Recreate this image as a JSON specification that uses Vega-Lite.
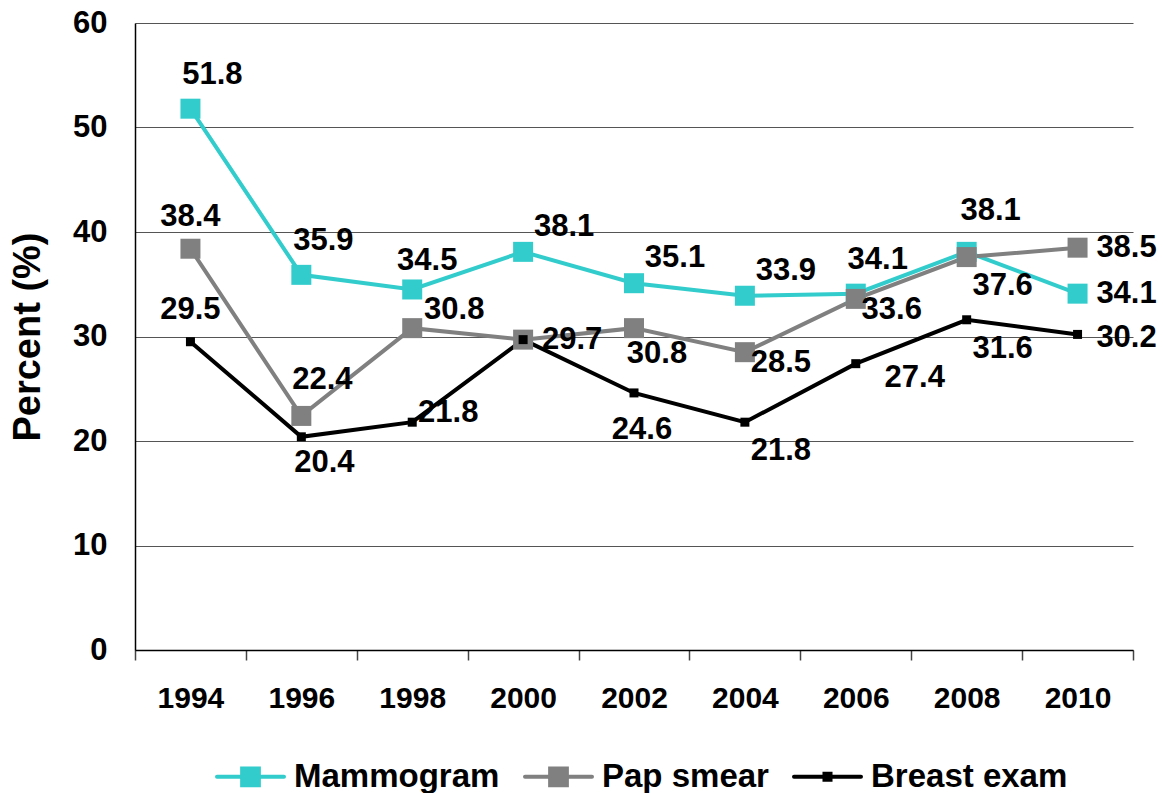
{
  "$schema": "https://vega.github.io/schema/vega-lite/v6.json",
  "width": 998,
  "height": 627,
  "autosize": {"type": "none"},
  "padding": {"left": 135, "top": 23, "right": 30, "bottom": 143},
  "background": "white",
  "config": {
    "font": "Liberation Sans",
    "view": {"stroke": null},
    "text": {"font": "Liberation Sans", "fontWeight": "bold", "fontSize": 31, "color": "black", "align": "center", "baseline": "middle"}
  },
  "data": {
    "values": [
      {"year": "1994", "series": "Mammogram", "value": 51.8},
      {"year": "1996", "series": "Mammogram", "value": 35.9},
      {"year": "1998", "series": "Mammogram", "value": 34.5},
      {"year": "2000", "series": "Mammogram", "value": 38.1},
      {"year": "2002", "series": "Mammogram", "value": 35.1},
      {"year": "2004", "series": "Mammogram", "value": 33.9},
      {"year": "2006", "series": "Mammogram", "value": 34.1},
      {"year": "2008", "series": "Mammogram", "value": 38.1},
      {"year": "2010", "series": "Mammogram", "value": 34.1},
      {"year": "1994", "series": "Pap smear", "value": 38.4},
      {"year": "1996", "series": "Pap smear", "value": 22.4},
      {"year": "1998", "series": "Pap smear", "value": 30.8},
      {"year": "2000", "series": "Pap smear", "value": 29.7},
      {"year": "2002", "series": "Pap smear", "value": 30.8},
      {"year": "2004", "series": "Pap smear", "value": 28.5},
      {"year": "2006", "series": "Pap smear", "value": 33.6},
      {"year": "2008", "series": "Pap smear", "value": 37.6},
      {"year": "2010", "series": "Pap smear", "value": 38.5},
      {"year": "1994", "series": "Breast exam", "value": 29.5},
      {"year": "1996", "series": "Breast exam", "value": 20.4},
      {"year": "1998", "series": "Breast exam", "value": 21.8},
      {"year": "2000", "series": "Breast exam", "value": 29.7},
      {"year": "2002", "series": "Breast exam", "value": 24.6},
      {"year": "2004", "series": "Breast exam", "value": 21.8},
      {"year": "2006", "series": "Breast exam", "value": 27.4},
      {"year": "2008", "series": "Breast exam", "value": 31.6},
      {"year": "2010", "series": "Breast exam", "value": 30.2}
    ]
  },
  "encoding": {
    "x": {
      "field": "year", "type": "ordinal", "title": null,
      "scale": {"paddingInner": 0, "paddingOuter": 0},
      "axis": {
        "labelAngle": 0, "labelFont": "Liberation Sans", "labelFontWeight": "bold", "labelFontSize": 30, "labelColor": "black",
        "labelPadding": 23, "tickBand": "extent", "tickSize": 10, "tickColor": "#444", "tickWidth": 1.5,
        "domainColor": "black", "domainWidth": 1.5, "grid": false
      }
    },
    "y": {
      "field": "value", "type": "quantitative",
      "scale": {"domain": [0, 60], "nice": false},
      "axis": {
        "values": [0, 10, 20, 30, 40, 50, 60],
        "title": "Percent (%)", "titleFont": "Liberation Sans", "titleFontWeight": "bold", "titleFontSize": 38, "titleColor": "black", "titlePadding": 25,
        "labelFont": "Liberation Sans", "labelFontWeight": "bold", "labelFontSize": 31, "labelColor": "black", "labelPadding": 28,
        "ticks": false, "domainColor": "black", "domainWidth": 1.5,
        "grid": true, "gridColor": "#555", "gridWidth": 1
      }
    }
  },
  "layer": [
    {
      "mark": {"type": "line", "strokeWidth": 4},
      "encoding": {
        "color": {
          "field": "series", "type": "nominal",
          "scale": {"domain": ["Mammogram", "Pap smear", "Breast exam"], "range": ["#33CCCC", "#808080", "#000000"]},
          "legend": {
            "title": null, "orient": "none", "direction": "horizontal", "legendX": 80, "legendY": 718,
            "labelFont": "Liberation Sans", "labelFontWeight": "bold", "labelFontSize": 33, "labelColor": "black",
            "labelOffset": 8, "columnPadding": 17, "symbolSize": 4489, "symbolStrokeWidth": 4, "labelLimit": 400,
            "symbolType": "M-1,0H1M-0.25,-0.25H0.25V0.25H-0.25Z",
            "encode": {
              "symbols": {
                "update": {
                  "shape": {"signal": "datum.value == 'Breast exam' ? 'M-1,0H1M-0.09,-0.09H0.09V0.09H-0.09Z' : 'M-1,0H1M-0.25,-0.25H0.25V0.25H-0.25Z'"},
                  "size": {"value": 4489},
                  "fill": {"scale": "color", "field": "value"},
                  "stroke": {"scale": "color", "field": "value"},
                  "strokeWidth": {"value": 4},
                  "strokeCap": {"value": "round"},
                  "opacity": {"value": 1},
                  "fillOpacity": {"value": 1}
                }
              }
            }
          }
        }
      }
    },
    {
      "transform": [{"filter": "datum.series == 'Mammogram'"}],
      "mark": {"type": "point", "shape": "square", "filled": true, "opacity": 1, "color": "#33CCCC", "size": 400}
    },
    {
      "transform": [{"filter": "datum.series == 'Pap smear'"}],
      "mark": {"type": "point", "shape": "square", "filled": true, "opacity": 1, "color": "#808080", "size": 400}
    },
    {
      "transform": [{"filter": "datum.series == 'Breast exam'"}],
      "mark": {"type": "point", "shape": "square", "filled": true, "opacity": 1, "color": "#000000", "size": 81}
    },
    {
      "transform": [{"filter": "datum.series == 'Mammogram' && indexof(['1994','1996','2006'], datum.year) >= 0"}],
      "mark": {"type": "text", "dx": 22, "dy": -34},
      "encoding": {"text": {"field": "value", "format": ".1f"}}
    },
    {
      "transform": [{"filter": "datum.series == 'Mammogram' && datum.year == '2008'"}],
      "mark": {"type": "text", "dx": 24, "dy": -41},
      "encoding": {"text": {"field": "value", "format": ".1f"}}
    },
    {
      "transform": [{"filter": "datum.series == 'Mammogram' && datum.year == '1998'"}],
      "mark": {"type": "text", "dx": 15, "dy": -28},
      "encoding": {"text": {"field": "value", "format": ".1f"}}
    },
    {
      "transform": [{"filter": "datum.series == 'Mammogram' && indexof(['2000','2002','2004'], datum.year) >= 0"}],
      "mark": {"type": "text", "dx": 41, "dy": -25},
      "encoding": {"text": {"field": "value", "format": ".1f"}}
    },
    {
      "transform": [{"filter": "(datum.series == 'Mammogram' && datum.year == '2010') || (datum.series == 'Pap smear' && indexof(['2000','2010'], datum.year) >= 0)"}],
      "mark": {"type": "text", "dx": 49, "dy": 0},
      "encoding": {"text": {"field": "value", "format": ".1f"}}
    },
    {
      "transform": [{"filter": "datum.series == 'Breast exam' && datum.year == '2010'"}],
      "mark": {"type": "text", "dx": 49, "dy": 4},
      "encoding": {"text": {"field": "value", "format": ".1f"}}
    },
    {
      "transform": [{"filter": "datum.series != 'Mammogram' && datum.year == '1994'"}],
      "mark": {"type": "text", "dx": 0, "dy": -32},
      "encoding": {"text": {"field": "value", "format": ".1f"}}
    },
    {
      "transform": [{"filter": "datum.series == 'Pap smear' && datum.year == '1996'"}],
      "mark": {"type": "text", "dx": 21, "dy": -36},
      "encoding": {"text": {"field": "value", "format": ".1f"}}
    },
    {
      "transform": [{"filter": "datum.series == 'Pap smear' && datum.year == '1998'"}],
      "mark": {"type": "text", "dx": 42, "dy": -18},
      "encoding": {"text": {"field": "value", "format": ".1f"}}
    },
    {
      "transform": [{"filter": "(datum.series == 'Pap smear' && datum.year == '2002') || (datum.series == 'Breast exam' && datum.year == '1996')"}],
      "mark": {"type": "text", "dx": 23, "dy": 26},
      "encoding": {"text": {"field": "value", "format": ".1f"}}
    },
    {
      "transform": [{"filter": "datum.series == 'Pap smear' && indexof(['2004','2006'], datum.year) >= 0"}],
      "mark": {"type": "text", "dx": 36, "dy": 11},
      "encoding": {"text": {"field": "value", "format": ".1f"}}
    },
    {
      "transform": [{"filter": "(datum.series == 'Pap smear' && datum.year == '2008') || (datum.series == 'Breast exam' && indexof(['2004','2008'], datum.year) >= 0)"}],
      "mark": {"type": "text", "dx": 36, "dy": 29},
      "encoding": {"text": {"field": "value", "format": ".1f"}}
    },
    {
      "transform": [{"filter": "datum.series == 'Breast exam' && datum.year == '1998'"}],
      "mark": {"type": "text", "dx": 36, "dy": -9},
      "encoding": {"text": {"field": "value", "format": ".1f"}}
    },
    {
      "transform": [{"filter": "datum.series == 'Breast exam' && datum.year == '2002'"}],
      "mark": {"type": "text", "dx": 8, "dy": 37},
      "encoding": {"text": {"field": "value", "format": ".1f"}}
    },
    {
      "transform": [{"filter": "datum.series == 'Breast exam' && datum.year == '2006'"}],
      "mark": {"type": "text", "dx": 59, "dy": 14},
      "encoding": {"text": {"field": "value", "format": ".1f"}}
    }
  ]
}
